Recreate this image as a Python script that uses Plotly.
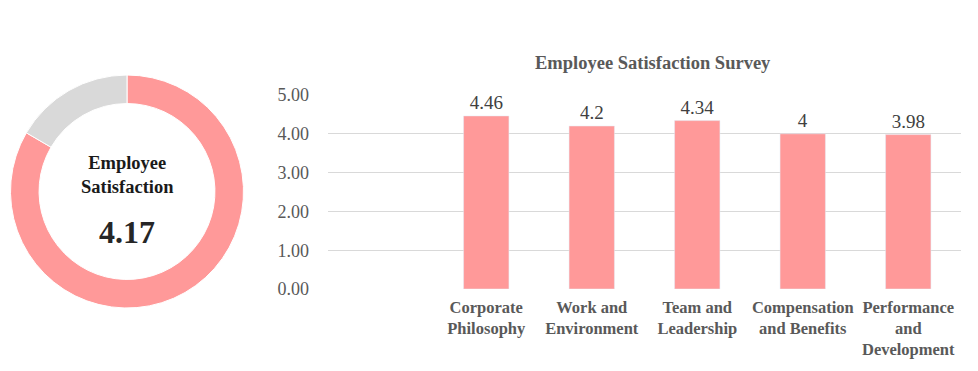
import plotly.graph_objects as go

categories = ["Corporate<br>Philosophy", "Work and<br>Environment", "Team and<br>Leadership",
              "Compensation<br>and Benefits", "Performance<br>and<br>Development"]
scores = [4.46, 4.2, 4.34, 4, 3.98]
score_labels = ["4.46", "4.2", "4.34", "4", "3.98"]
overall = 4.17
max_score = 5
y_ticks = [0, 1, 2, 3, 4, 5]
y_tick_labels = ["0.00", "1.00", "2.00", "3.00", "4.00", "5.00"]

W, H = 978, 371
OFF = 8  # page body margin
PINK = "#FF9999"
GREY = "#D9D9D9"
FONT = "Liberation Serif, Times New Roman, serif"


def px(x):
    return (x - OFF) / W


def py(y):
    return 1 - (y - OFF) / H


fig = go.Figure()

fig.add_trace(go.Pie(
    values=[overall, max_score - overall],
    marker=dict(colors=[PINK, GREY], line=dict(color="white", width=1)),
    hole=0.755, sort=False, direction="clockwise", rotation=0,
    textinfo="none", hoverinfo="skip", showlegend=False,
    domain=dict(x=[px(10.5), px(243.5)], y=[py(308), py(75)]),
))

fig.add_trace(go.Bar(
    x=categories, y=scores, text=score_labels, textposition="outside",
    textfont=dict(family=FONT, size=19, color="#404040"),
    marker=dict(color=PINK), width=0.43, cliponaxis=False,
    hoverinfo="skip", showlegend=False,
))

fig.update_layout(
    width=W, height=H, autosize=False,
    margin=dict(l=0, r=0, t=0, b=0, pad=0),
    paper_bgcolor="white", plot_bgcolor="white",
    font=dict(family=FONT),
    xaxis=dict(domain=[px(328), px(961)], range=[-1.5, 4.5], showgrid=False,
               showline=False, zeroline=False, ticks="", automargin=False,
               ticklabelstandoff=6,
               tickprefix="<b>", ticksuffix="</b>",
               tickfont=dict(family=FONT, size=16.5, color="#595959")),
    yaxis=dict(domain=[py(289), py(95)], range=[0, 5], tickvals=y_ticks,
               ticktext=y_tick_labels, gridcolor=GREY, gridwidth=1, zeroline=False,
               showline=False, ticks="", ticklabelstandoff=18, automargin=False,
               tickfont=dict(family=FONT, size=18, color="#595959")),
    annotations=[
        dict(text="<b>Employee Satisfaction Survey</b>", x=px(653), y=py(63),
             xref="paper", yref="paper", showarrow=False,
             xanchor="center", yanchor="middle",
             font=dict(family=FONT, size=18.5, color="#595959")),
        dict(text="<b>Employee<br>Satisfaction</b>", x=px(127), y=py(174.5),
             xref="paper", yref="paper", showarrow=False,
             xanchor="center", yanchor="middle",
             font=dict(family=FONT, size=18.5, color="#1a1a1a")),
        dict(text="<b>%.2f</b>" % overall, x=px(127), y=py(232),
             xref="paper", yref="paper", showarrow=False,
             xanchor="center", yanchor="middle",
             font=dict(family=FONT, size=32, color="#262626")),
    ],
)

fig.write_html("out.html")
